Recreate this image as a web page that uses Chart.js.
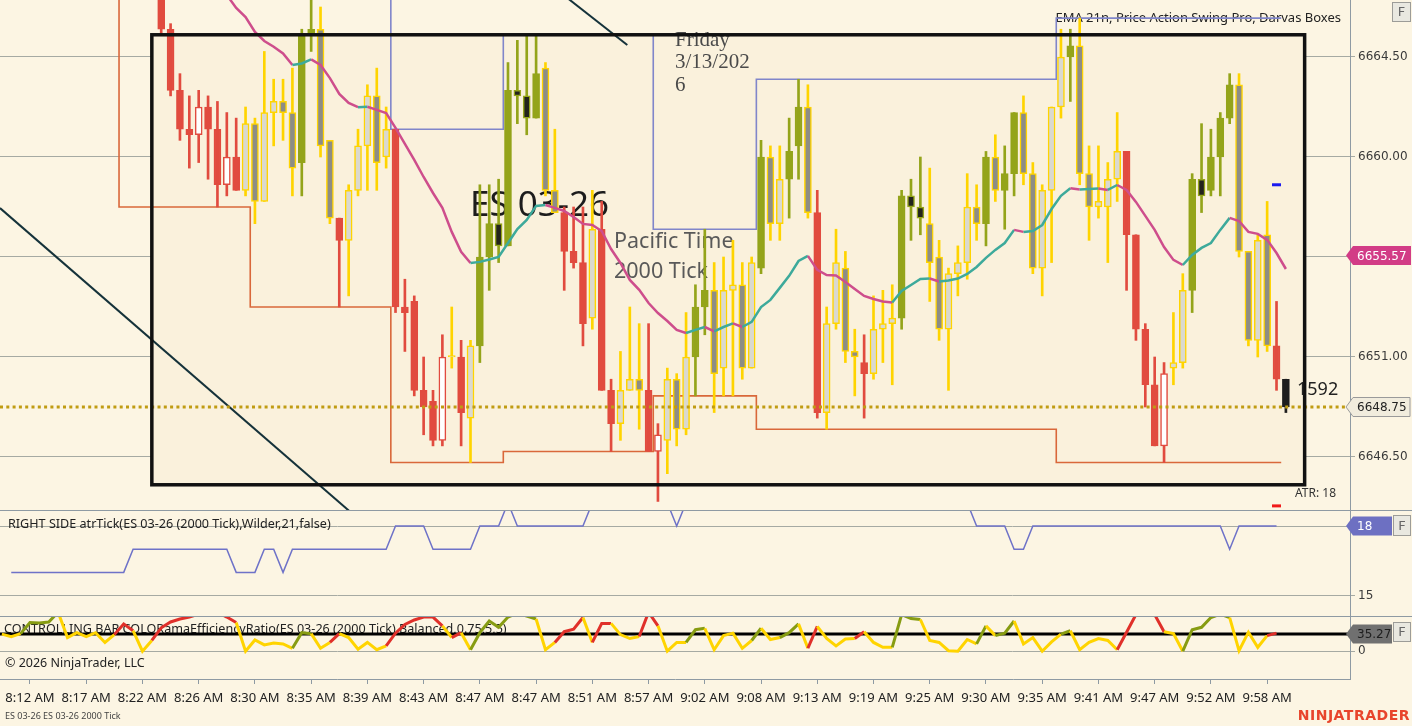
<!DOCTYPE html>
<html>
<head>
<meta charset="utf-8">
<script src="https://cdn.jsdelivr.net/npm/chart.js@4.4.1/dist/chart.umd.min.js"></script>
<style>
  body { margin: 0; background: #FCF5E3; width: 1412px; height: 726px; overflow: hidden; position: relative; }
  canvas { position: absolute; left: 0; }
</style>
</head>
<body>
<canvas id="mainChart" width="1412" height="510" style="top:0"></canvas>
<canvas id="atrChart" width="1412" height="106" style="top:510px"></canvas>
<canvas id="erChart" width="1412" height="110" style="top:616px"></canvas>
<script>
// time labels, one every 6 bars starting at bar 0
const timeLabels = ["8:12 AM", "8:17 AM", "8:22 AM", "8:26 AM", "8:30 AM", "8:35 AM", "8:39 AM", "8:43 AM",
    "8:47 AM", "8:47 AM", "8:51 AM", "8:57 AM", "9:02 AM", "9:08 AM", "9:13 AM", "9:19 AM", "9:25 AM",
    "9:30 AM", "9:35 AM", "9:41 AM", "9:47 AM", "9:52 AM", "9:58 AM"];

// candles, bars 14..134
const candleStart = 14;
const openPrices = [6668.5, 6665.75, 6663, 6661.25, 6661, 6662.25, 6661.25, 6658.75, 6660, 6658.5,
    6661.5, 6658, 6662, 6662.5, 6662, 6659.75, 6665.5, 6665.75, 6660.75, 6657.25,
    6656.25, 6658.5, 6660.5, 6662.75, 6660, 6661.25, 6653.25, 6653.5, 6649.5, 6649,
    6647.25, 6651, 6651, 6648.25, 6651.5, 6655.5, 6657, 6656, 6663, 6662.75,
    6661.75, 6664, 6658.5, 6657.5, 6655.75, 6655.25, 6652.75, 6656.75, 6649.5, 6648,
    6649.5, 6650, 6649.5, 6646.75, 6647.25, 6650, 6647.75, 6651, 6653.25, 6654,
    6650.5, 6654, 6654.25, 6650.5, 6655, 6660, 6657, 6659, 6660.5, 6662.25,
    6657.5, 6648.5, 6652.5, 6655, 6651.25, 6650.75, 6650.25, 6652.25, 6652.5, 6652.75,
    6658.25, 6657.75, 6657, 6655.5, 6652.25, 6654.75, 6655.25, 6657.75, 6657, 6660,
    6658.5, 6659.25, 6662, 6659.25, 6655, 6658.5, 6662.25, 6664.5, 6665, 6659.25,
    6657.75, 6657.75, 6659, 6660.25, 6656.5, 6652.25, 6649.75, 6647, 6650.5, 6650.75,
    6654, 6659, 6658.5, 6660, 6661.75, 6663.25, 6655.75, 6651.75, 6656.5, 6651.5,
    6650];
const highPrices = [6668.75, 6666, 6663.75, 6662.75, 6663, 6662.75, 6662.5, 6662, 6661.75, 6662.25,
    6661.75, 6664.75, 6663.5, 6663.5, 6664, 6665.75, 6667.5, 6666.75, 6660.75, 6657.25,
    6658.75, 6661.25, 6663.25, 6664, 6662.25, 6661.25, 6654.5, 6653.75, 6651, 6649.5,
    6652, 6653.25, 6651.75, 6651.75, 6658.75, 6658.75, 6659, 6664.25, 6665.25, 6665.5,
    6665.5, 6664.25, 6661.25, 6657.75, 6657.75, 6657.75, 6658.5, 6658, 6650, 6651.25,
    6653.25, 6652.5, 6652.5, 6648, 6650.5, 6650.25, 6653, 6654.25, 6656.75, 6655.25,
    6655.5, 6656.25, 6655.25, 6655.5, 6660.75, 6660.5, 6660.5, 6661.75, 6663.5, 6663.25,
    6658.5, 6653.25, 6656.75, 6655.75, 6652.25, 6652, 6653.75, 6654, 6654.25, 6658.5,
    6659, 6660, 6659.5, 6656.25, 6655, 6656, 6659.25, 6658.75, 6660.25, 6661,
    6660.5, 6662, 6662.75, 6659.75, 6658.75, 6662.25, 6665.75, 6665.75, 6666.25, 6660.5,
    6660.5, 6659.75, 6662, 6660.25, 6656.5, 6652.5, 6651, 6650.75, 6653, 6654.75,
    6659.25, 6661.5, 6661.25, 6662, 6663.75, 6663.75, 6655.75, 6656.5, 6658, 6653.5,
    6650];
const lowPrices = [6665.5, 6662.75, 6660.75, 6659.5, 6659.75, 6659, 6657.75, 6658.25, 6658.5, 6658.25,
    6657, 6658, 6660.5, 6660.75, 6658.25, 6658.25, 6664.75, 6660, 6657, 6653.25,
    6653.75, 6658.25, 6658.5, 6658.5, 6659.5, 6653, 6651.25, 6649.25, 6647.5, 6647,
    6647, 6650.5, 6647, 6646.25, 6650.75, 6654, 6655.25, 6656, 6661.5, 6661,
    6661.75, 6658.25, 6657.5, 6654, 6655, 6651.5, 6652.25, 6649.5, 6646.75, 6647.25,
    6649.5, 6647.75, 6646.75, 6644.5, 6645.75, 6647, 6647.5, 6649.25, 6652, 6648.5,
    6649.25, 6649.25, 6650, 6650.5, 6654.75, 6656.25, 6656.25, 6657.25, 6659, 6657.25,
    6648.25, 6647.75, 6652.25, 6650.75, 6649.25, 6648.25, 6650, 6650.75, 6649.75, 6652.25,
    6656.25, 6656.5, 6653.5, 6651.75, 6649.5, 6653.75, 6654.5, 6656.25, 6656, 6658,
    6656.75, 6658.25, 6658.75, 6654.75, 6653.75, 6655.25, 6661.75, 6662.5, 6658.75, 6656.25,
    6657.25, 6655.25, 6658, 6654, 6651.75, 6648.75, 6647, 6646.25, 6649.75, 6650.5,
    6653, 6657.5, 6658.25, 6658.25, 6661.5, 6655.5, 6651.5, 6651, 6651.25, 6649.5,
    6648.5];
const closePrices = [6665.75, 6663, 6661.25, 6661, 6662.25, 6661.25, 6658.75, 6660, 6658.5, 6661.5,
    6658, 6662, 6662.5, 6662, 6659.5, 6665.5, 6665.75, 6660.5, 6657.25, 6656.25,
    6658.5, 6660.5, 6662.75, 6659.75, 6661.25, 6653.25, 6653, 6649.5, 6648.75, 6647.25,
    6651, 6651, 6648.5, 6651.5, 6655.5, 6657, 6656, 6663, 6662.75, 6661.75,
    6663.75, 6658.5, 6657.5, 6655.75, 6655.25, 6652.5, 6656.75, 6649.5, 6648, 6649.5,
    6650, 6649.5, 6646.75, 6647.5, 6650, 6647.75, 6651, 6653.25, 6654, 6650.25,
    6654, 6654.25, 6650.5, 6655.25, 6660, 6657, 6659, 6660.25, 6662.25, 6657.5,
    6648.5, 6652.5, 6655.25, 6651.25, 6651, 6650.25, 6652.25, 6652.5, 6652.75, 6658.25,
    6657.75, 6657.25, 6655.25, 6652.25, 6654.75, 6655.25, 6657.75, 6657, 6660, 6658.5,
    6659.25, 6662, 6659.25, 6655, 6658.5, 6662.25, 6664.5, 6665, 6659.25, 6657.75,
    6658, 6659, 6660.25, 6656.5, 6652.25, 6649.75, 6647, 6650.25, 6650.75, 6654,
    6659, 6658.25, 6660, 6661.75, 6663.25, 6655.75, 6651.75, 6656.25, 6651.5, 6650,
    6648.75];

// bar color regime from the efficiency ratio, bars -3..134 (R red, G olive, Y neutral, K current bar)
const regimeStart = -3;
const barRegime = ("YYYGGGGYYYYYYRRYYRRRRRRRRRYYYYYYGGYYRYYYYYRRRRRRYRYGGGGGGGYYRRRYRRYYYRRYYYGG" +
    "YYYYYGYYGGYRYYYYRYYYGGGYYYYYYGYGGYYYYYGYYYYYRRRRRYYGGGGGYYYYRK").split("");

// EMA 21, bars 19..134
const emaStart = 19;
const emaValues = [6668.19, 6667.74, 6667.29, 6666.71, 6666.30, 6665.63, 6665.22, 6664.96, 6664.66, 6664.14,
    6664.21, 6664.39, 6664.14, 6663.55, 6662.84, 6662.43, 6662.24, 6662.26, 6662.12, 6661.98,
    6661.31, 6660.59, 6659.87, 6659.10, 6658.38, 6657.71, 6656.63, 6655.73, 6655.23, 6655.28,
    6655.39, 6655.50, 6656.13, 6656.76, 6657.17, 6657.80, 6657.84, 6657.71, 6657.57, 6657.30,
    6656.99, 6656.94, 6656.67, 6655.86, 6655.23, 6654.47, 6654.02, 6653.43, 6652.98, 6652.62,
    6652.22, 6652.08, 6652.22, 6652.35, 6652.15, 6652.35, 6652.51, 6652.35, 6652.58, 6653.25,
    6653.57, 6654.11, 6654.65, 6655.32, 6655.55, 6654.92, 6654.69, 6654.67, 6654.38, 6654.06,
    6653.75, 6653.61, 6653.50, 6653.45, 6653.97, 6654.24, 6654.51, 6654.53, 6654.40, 6654.44,
    6654.53, 6654.74, 6655.05, 6655.46, 6655.82, 6656.13, 6656.72, 6656.63, 6656.67, 6656.94,
    6657.66, 6658.25, 6658.59, 6658.54, 6658.56, 6658.58, 6658.52, 6658.74, 6658.52, 6657.98,
    6657.35, 6656.72, 6655.95, 6655.37, 6655.14, 6655.59, 6655.91, 6656.13, 6656.72, 6657.26,
    6657.12, 6656.63, 6656.54, 6656.27, 6655.68, 6654.96];

// ATR in ticks, bars -2..133
const atrStart = -2;
const atrValues = [16, 16, 16, 16, 16, 16, 16, 16, 16, 16, 16, 16, 16,
    17, 17, 17, 17, 17, 17, 17, 17, 17, 17, 17,
    16, 16, 16, 17, 17, 16,
    17, 17, 17, 17, 17, 17, 17, 17, 17, 17, 17,
    18, 18, 18, 18, 17, 17, 17, 17, 17, 18, 18, 18, 19,
    18, 18, 18, 18, 18, 18, 18, 18,
    19, 19, 19, 19, 19, 19, 19, 19, 19, 18,
    19, 19, 19, 19, 19, 19, 19, 19, 19, 19, 19, 19, 19, 19, 19, 19,
    19, 19, 19, 19, 19, 19, 19, 19, 19, 19, 19, 19, 19, 19, 19,
    18, 18, 18, 18, 17, 17,
    18, 18, 18, 18, 18, 18, 18, 18, 18, 18, 18, 18, 18, 18, 18, 18, 18, 18, 18, 18, 18,
    17, 18, 18, 18, 18, 18];

// efficiency ratio, bars -3..133
const erStart = -3;
const erValues = [35, 30, 36, 59, 58, 60, 80, 28, 38, 30, 38, 18, 34, 56, 42, 0, 22, 48, 60, 66,
    70, 76, 82, 80, 70, 59, 0, 23, 13, 17, 15, 6, 38, 36, 6, 18, 36, 28, 4, 18,
    3, 11, 37, 55, 64, 70, 70, 52, 28, 38, 3, 38, 62, 49, 70, 78, 72, 66, 3, 18,
    40, 45, 69, 18, 57, 57, 34, 26, 30, 80, 52, 0, 18, 18, 44, 47, 3, 32, 37, 6,
    22, 47, 24, 28, 38, 56, 6, 51, 26, 11, 25, 26, 40, 18, 8, 8, 75, 67, 65, 22,
    18, 1, 0, 24, 15, 52, 32, 37, 62, 15, 28, 0, 19, 35, 42, 3, 18, 26, 22, 3,
    39, 75, 85, 75, 40, 36, 0, 44, 49, 69, 76, 69, 1, 39, 8, 32, 37];

const lastPrice = 6648.75;
const emaLast = 6655.57;
const atrLast = 18;
const erThreshold = 35.27;
const lastTickCount = "1592";

// swing / darvas step lines: level i runs from edge i to edge i+1 (bar units)
const swingLowEdges = [-4, 9.5, 23.5, 38.5, 50.5, 66.5, 77.5, 109.5, 133.5];
const swingLowLevels = [6672, 6657.75, 6653.25, 6646.25, 6646.75, 6649.25, 6647.75, 6646.25];
const swingHighEdges = [-4, 38.5, 50.5, 66.5, 77.5, 109.5, 133.5];
const swingHighLevels = [6672, 6661.25, 6665.5, 6656.75, 6663.5, 6666.25];

const darvasBox = { from: 13, to: 136, top: 6665.5, bottom: 6645.25 };
const trendLineA = [{ x: -3.2, y: 6657.7 }, { x: 40, y: 6641.9 }];
const trendLineB = [{ x: 50, y: 6669.58 }, { x: 63.73, y: 6665.04 }];
const swingHighMark = [{ x: 133, y: 6658.75 }];
const swingLowMark = [{ x: 133, y: 6644.3 }];

const priceTicks = [6646.5, 6651, 6655.5, 6660, 6664.5];

const X_MIN = -3.2, X_MAX = 140.84;
const GRID = "#A6AAA3";
const AXIS = "#8E9AA3";
const CANDLE = { R: "#E14B3F", G: "#94A41A", Y: "#FFD400", K: "#1E1E1E" };
const ER_COLOR = { R: "#E0302A", G: "#879C12", Y: "#FFD400", K: "#1E1E1E" };
const PINK = "#CE4E8C", TEAL = "#3DAA9B";

const regimeAt = (k) => barRegime[k - regimeStart];

const bodyFill = (r, up) => {
    if (r === "R") return up ? "#FFFFFF" : CANDLE.R;
    if (r === "G") return up ? CANDLE.G : "#23231C";
    if (r === "Y") return up ? "#DAD9CF" : "#8D8D85";
    return CANDLE.K;
};

const stepPoints = (edges, levels) =>
    levels.flatMap((v, i) => [{ x: edges[i], y: v }, { x: edges[i + 1], y: v }]);

const candleBars = openPrices.map((_, i) => candleStart + i);
const wickData = candleBars.map((k, i) => ({ x: k, y: [lowPrices[i], highPrices[i]] }));
const bodyData = candleBars.map((k, i) => ({ x: k, y: [openPrices[i], closePrices[i]] }));
const wickColors = candleBars.map((k) => CANDLE[regimeAt(k)]);
const bodyBorders = candleBars.map((k) => CANDLE[regimeAt(k)]);
const bodyFills = candleBars.map((k, i) =>
    bodyFill(regimeAt(k), closePrices[i] >= openPrices[i] && !(regimeAt(k) === "R" && closePrices[i] === openPrices[i])));

const fitRight = (s) => { s.width = 62; s.paddingTop = 0; s.paddingBottom = 0; };

const rightAxis = (min, max, ticks, fmt) => ({
    type: "linear", position: "right", min, max,
    afterBuildTicks: (a) => { a.ticks = ticks.map((v) => ({ value: v })); },
    afterFit: fitRight,
    ticks: { callback: fmt, color: "#3A3A3A", font: { family: "DejaVu Sans", size: 12 }, padding: 3 },
    grid: { color: GRID, tickLength: 5, lineWidth: 1 },
    border: { display: true, color: AXIS },
});

const hiddenX = { type: "linear", min: X_MIN, max: X_MAX, display: false, offset: false };

const baseOptions = (scales) => ({
    responsive: false, animation: false, events: [],
    layout: { padding: 0, autoPadding: false },
    plugins: { legend: { display: false }, tooltip: { enabled: false } },
    scales,
});

const badge = (ctx, y, text, fill, textColor, right, border) => {
    const x0 = 1346;
    ctx.save();
    ctx.beginPath();
    ctx.moveTo(x0, y);
    ctx.lineTo(x0 + 7, y - 9.5);
    ctx.lineTo(right, y - 9.5);
    ctx.lineTo(right, y + 9.5);
    ctx.lineTo(x0 + 7, y + 9.5);
    ctx.closePath();
    ctx.fillStyle = fill;
    ctx.fill();
    if (border) { ctx.strokeStyle = border; ctx.lineWidth = 1; ctx.stroke(); }
    ctx.fillStyle = textColor;
    ctx.font = '12px "DejaVu Sans"';
    ctx.textBaseline = "middle";
    ctx.textAlign = "left";
    ctx.fillText(text, 1357, y + 1);
    ctx.restore();
};

const fButton = (ctx, x, y, w, h) => {
    ctx.save();
    ctx.fillStyle = "#E9E8E0";
    ctx.fillRect(x, y, w, h);
    ctx.strokeStyle = "#9C9C98";
    ctx.lineWidth = 1;
    ctx.strokeRect(x + 0.5, y + 0.5, w - 1, h - 1);
    ctx.fillStyle = "#666";
    ctx.font = '13px "DejaVu Sans"';
    ctx.textAlign = "center";
    ctx.textBaseline = "middle";
    ctx.fillText("F", x + w / 2, y + h / 2 + 1);
    ctx.restore();
};

const text = (ctx, str, x, y, font, color, align = "left") => {
    ctx.save();
    ctx.font = font;
    ctx.fillStyle = color;
    ctx.textAlign = align;
    ctx.textBaseline = "middle";
    ctx.fillText(str, x, y);
    ctx.restore();
};

const separator = (ctx) => {
    ctx.save();
    ctx.strokeStyle = AXIS;
    ctx.lineWidth = 1;
    ctx.beginPath();
    ctx.moveTo(0, 0.5);
    ctx.lineTo(1412, 0.5);
    ctx.stroke();
    ctx.restore();
};

// main price panel
const mainDecor = {
    id: "mainDecor",
    beforeDatasetsDraw(chart) {
        const { ctx, scales: { x, y } } = chart;
        const l = x.getPixelForValue(darvasBox.from), r = x.getPixelForValue(darvasBox.to);
        const t = y.getPixelForValue(darvasBox.top), b = y.getPixelForValue(darvasBox.bottom);
        ctx.save();
        ctx.fillStyle = "#FAF1DC";
        ctx.fillRect(l, t, r - l, b - t);
        ctx.restore();
        text(ctx, "ES 03-26", 470, 206, '35px "Noto Sans"', "#1C1C1C");
        text(ctx, "Pacific Time", 614, 242, '21.5px "Noto Sans"', "#595959");
        text(ctx, "2000 Tick", 614, 272, '21.5px "Noto Sans"', "#595959");
        text(ctx, "Friday", 675, 40, '21px "Liberation Serif"', "#4A4A4A");
        text(ctx, "3/13/202", 675, 62, '21px "Liberation Serif"', "#4A4A4A");
        text(ctx, "6", 675, 85, '21px "Liberation Serif"', "#4A4A4A");
        text(ctx, "EMA 21n, Price Action Swing Pro, Darvas Boxes", 1341, 18, '13px "Noto Sans"', "#222", "right");
    },
    afterDatasetsDraw(chart) {
        const { ctx, scales: { x, y } } = chart;
        const l = x.getPixelForValue(darvasBox.from), r = x.getPixelForValue(darvasBox.to);
        const t = y.getPixelForValue(darvasBox.top), b = y.getPixelForValue(darvasBox.bottom);
        ctx.save();
        ctx.strokeStyle = "#111";
        ctx.lineWidth = 3.5;
        ctx.strokeRect(l, t, r - l, b - t);
        ctx.restore();
        text(ctx, lastTickCount, 1297, 390, '18px "Noto Sans"', "#222");
        text(ctx, "ATR: " + atrLast, 1295, 494, '12px "Noto Sans"', "#333");
    },
    afterDraw(chart) {
        const { ctx, scales: { y } } = chart;
        badge(ctx, y.getPixelForValue(emaLast), emaLast.toFixed(2), "#D23C86", "#FFFFFF", 1411);
        badge(ctx, y.getPixelForValue(lastPrice), lastPrice.toFixed(2), "#F1ECDD", "#222", 1410, "#9A9A9A");
        fButton(ctx, 1392, 2, 19, 20);
    },
};

new Chart(document.getElementById("mainChart"), {
    type: "bar",
    data: {
        datasets: [
            {
                type: "line", data: [{ x: X_MIN, y: lastPrice }, { x: X_MAX, y: lastPrice }],
                borderColor: "#C09C12", borderWidth: 3, borderDash: [3, 3.3], pointRadius: 0, order: 0, clip: 0,
            },
            {
                type: "line", data: swingHighMark, showLine: false, pointStyle: "line", pointRadius: 4.5,
                pointBorderWidth: 3, pointBorderColor: "#1A1AF0", order: 0,
            },
            {
                type: "line", data: swingLowMark, showLine: false, pointStyle: "line", pointRadius: 4.5,
                pointBorderWidth: 3, pointBorderColor: "#F01A1A", order: 0,
            },
            {
                type: "line", data: emaValues.map((v, i) => ({ x: emaStart + i, y: v })),
                borderColor: TEAL, borderWidth: 2.5, pointRadius: 0, tension: 0, order: 1, clip: 0,
                segment: { borderColor: (c) => (c.p1.parsed.y < c.p0.parsed.y ? PINK : TEAL) },
            },
            {
                type: "bar", data: bodyData, backgroundColor: bodyFills, borderColor: bodyBorders,
                borderWidth: 1.5, borderSkipped: false, barThickness: 7, grouped: false, minBarLength: 1.5, order: 2,
            },
            {
                type: "bar", data: wickData, backgroundColor: wickColors, borderWidth: 0,
                barThickness: 2, grouped: false, order: 3,
            },
            {
                type: "line", data: stepPoints(swingLowEdges, swingLowLevels), borderColor: "#D9683A",
                borderWidth: 1.6, pointRadius: 0, order: 4, clip: 0,
            },
            {
                type: "line", data: stepPoints(swingHighEdges, swingHighLevels), borderColor: "#8086CA",
                borderWidth: 1.6, pointRadius: 0, order: 4, clip: 0,
            },
            { type: "line", data: trendLineA, borderColor: "#15323A", borderWidth: 2, pointRadius: 0, order: 4, clip: 0 },
            { type: "line", data: trendLineB, borderColor: "#15323A", borderWidth: 2, pointRadius: 0, order: 4, clip: 0 },
        ],
    },
    options: baseOptions({
        x: hiddenX,
        y: rightAxis(6644.115, 6667.065, priceTicks, (v) => v.toFixed(2)),
    }),
    plugins: [mainDecor],
});

// ATR panel
const atrDecor = {
    id: "atrDecor",
    beforeDatasetsDraw(chart) {
        text(chart.ctx, "RIGHT SIDE atrTick(ES 03-26 (2000 Tick),Wilder,21,false)", 8, 14, '12.6px "Noto Sans"', "#222");
    },
    afterDraw(chart) {
        const { ctx, scales: { y } } = chart;
        separator(ctx);
        badge(ctx, y.getPixelForValue(atrLast), String(atrLast), "#6D70C2", "#FFFFFF", 1392);
        fButton(ctx, 1393, 5, 18, 21);
    },
};

new Chart(document.getElementById("atrChart"), {
    type: "line",
    data: {
        datasets: [{
            data: atrValues.map((v, i) => ({ x: atrStart + i, y: v })),
            borderColor: "#6E72C8", borderWidth: 1.5, pointRadius: 0, clip: 0,
        }],
    },
    options: baseOptions({
        x: hiddenX,
        y: rightAxis(14.12, 18.69, [15, 18], (v) => String(v)),
    }),
    plugins: [atrDecor],
});

// efficiency ratio panel + time axis
const erDecor = {
    id: "erDecor",
    beforeDatasetsDraw(chart) {
        text(chart.ctx, "CONTROLLING BAR COLORamaEfficiencyRatio(ES 03-26 (2000 Tick),Balanced,0.75,5,5)", 4, 13,
            '12.6px "Noto Sans"', "#222");
    },
    afterDraw(chart) {
        const { ctx, scales: { y } } = chart;
        separator(ctx);
        text(ctx, "\u00A9 2026 NinjaTrader, LLC", 5, 47, '12.5px "Noto Sans"', "#222");
        text(ctx, "ES 03-26 ES 03-26 2000 Tick", 5, 100, '9px "Noto Sans"', "#444");
        ctx.save();
        ctx.letterSpacing = "0.5px";
        text(ctx, "NINJATRADER", 1410, 100, 'bold 14px "DejaVu Sans"', "#E8452C", "right");
        ctx.restore();
        badge(ctx, y.getPixelForValue(erThreshold), erThreshold.toFixed(2), "#707070", "#1E1E1E", 1392);
        fButton(ctx, 1393, 6, 18, 20);
    },
};

new Chart(document.getElementById("erChart"), {
    type: "line",
    data: {
        datasets: [
            {
                data: [{ x: X_MIN, y: erThreshold }, { x: X_MAX, y: erThreshold }],
                borderColor: "#000", borderWidth: 3, pointRadius: 0, order: 1, clip: 0,
            },
            {
                data: erValues.map((v, i) => ({ x: erStart + i, y: v })),
                borderColor: ER_COLOR.Y, borderWidth: 3, pointRadius: 0, order: 0, clip: 0,
                segment: { borderColor: (c) => ER_COLOR[regimeAt(erStart + c.p1DataIndex)] },
            },
        ],
    },
    options: baseOptions({
        x: {
            type: "linear", position: "bottom", min: X_MIN, max: X_MAX, offset: false,
            afterBuildTicks: (a) => { a.ticks = timeLabels.map((_, i) => ({ value: i * 6 })); },
            afterFit: (s) => { s.height = 47; s.paddingLeft = 0; s.paddingRight = 0; },
            ticks: {
                autoSkip: false, maxRotation: 0, minRotation: 0, padding: 6, color: "#222",
                font: { family: "Noto Sans", size: 13 },
                callback: (v, i) => timeLabels[i],
            },
            grid: { drawOnChartArea: false, drawTicks: true, tickLength: 5, color: AXIS },
            border: { display: true, color: AXIS },
        },
        y: rightAxis(-57, 72.2, [0], (v) => String(v)),
    }),
    plugins: [erDecor],
});
</script>
</body>
</html>
